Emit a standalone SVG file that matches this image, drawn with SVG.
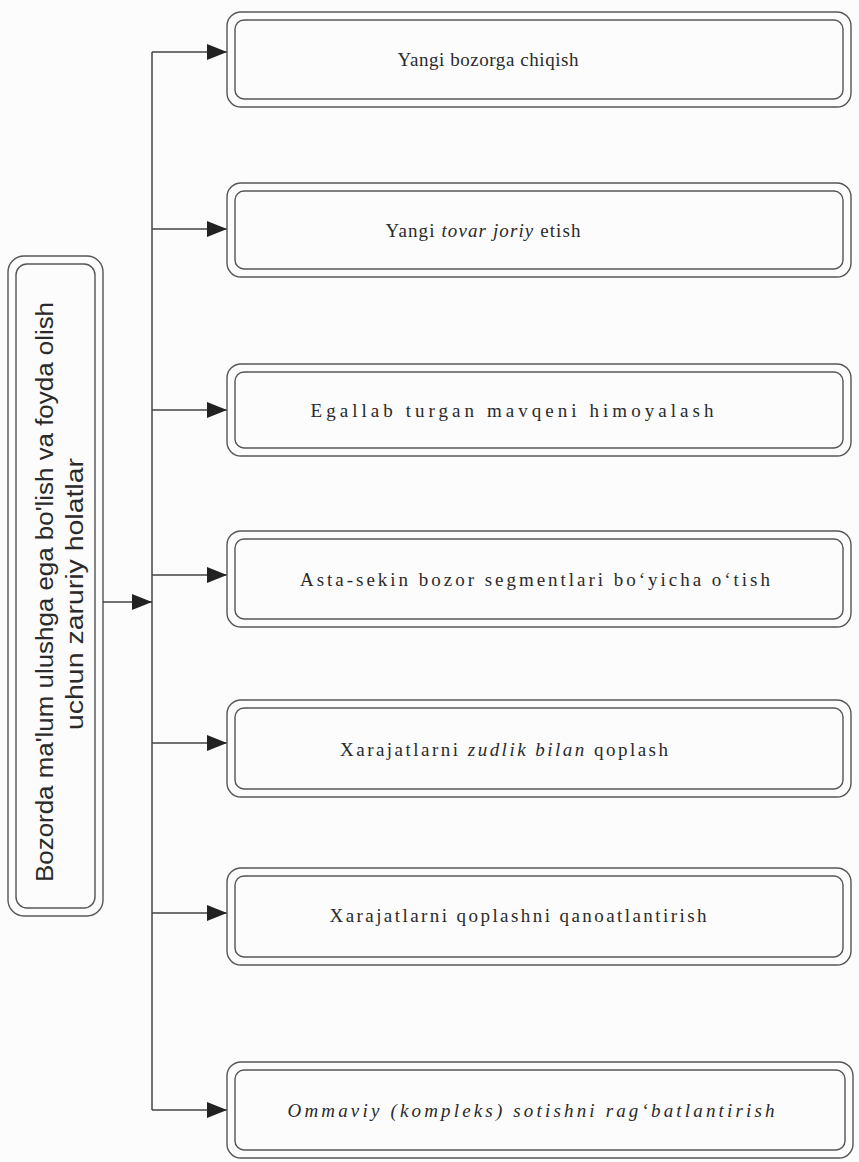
<svg xmlns="http://www.w3.org/2000/svg" width="859" height="1162" viewBox="0 0 859 1162">
  <style>
    .bg { fill: #fcfcfc; }
    .frame { fill: none; stroke: #555; stroke-width: 1.4; }
    .wire { fill: none; stroke: #444; stroke-width: 1.5; }
    .lbl { font-family: "Liberation Serif", "Times New Roman", serif; font-size: 19px; fill: #2a2a2a; text-anchor: middle; }
    .side { font-family: "Liberation Sans Narrow", "Liberation Sans", Arial, sans-serif; font-size: 23px; fill: #2a2a2a; text-anchor: middle; }
    .it { font-style: italic; }
  </style>
  <defs>
    <marker id="head" viewBox="0 0 20 16" refX="20" refY="8" markerWidth="20" markerHeight="16" markerUnits="userSpaceOnUse" orient="auto">
      <path d="M0,0 L20,8 L0,16 Z" fill="#222"/>
    </marker>
  </defs>

  <rect class="bg" x="0" y="0" width="859" height="1162"/>

  <!-- source node (vertical caption) -->
  <g id="source">
    <rect class="frame" x="8" y="256" width="95" height="660" rx="16"/>
    <rect class="frame" x="16" y="264" width="79" height="644" rx="11"/>
    <text class="side" transform="translate(53,592) rotate(-90)" textLength="580" lengthAdjust="spacingAndGlyphs">Bozorda ma'lum ulushga ega bo'lish va foyda olish</text>
    <text class="side" transform="translate(83,594) rotate(-90)" textLength="272" lengthAdjust="spacingAndGlyphs">uchun  zaruriy  holatlar</text>
  </g>

  <!-- connectors -->
  <g id="connectors">
    <line class="wire" x1="152" y1="52" x2="152" y2="1110"/>
    <line class="wire" x1="103" y1="602" x2="152" y2="602" marker-end="url(#head)"/>
    <line class="wire" x1="152" y1="52" x2="227" y2="52" marker-end="url(#head)"/>
    <line class="wire" x1="152" y1="229" x2="227" y2="229" marker-end="url(#head)"/>
    <line class="wire" x1="152" y1="410" x2="227" y2="410" marker-end="url(#head)"/>
    <line class="wire" x1="152" y1="575" x2="227" y2="575" marker-end="url(#head)"/>
    <line class="wire" x1="152" y1="743" x2="227" y2="743" marker-end="url(#head)"/>
    <line class="wire" x1="152" y1="913" x2="227" y2="913" marker-end="url(#head)"/>
    <line class="wire" x1="152" y1="1110" x2="227" y2="1110" marker-end="url(#head)"/>
  </g>

  <g id="n1">
    <rect class="frame" x="227" y="12" width="624" height="95" rx="14"/>
    <rect class="frame" x="235" y="20" width="608" height="79" rx="9"/>
    <text class="lbl" x="488" y="66" textLength="181" lengthAdjust="spacing">Yangi bozorga chiqish</text>
  </g>
  <g id="n2">
    <rect class="frame" x="227" y="183" width="624" height="94" rx="14"/>
    <rect class="frame" x="235" y="191" width="608" height="78" rx="9"/>
    <text class="lbl" x="483" y="237" textLength="195" lengthAdjust="spacing">Yangi <tspan class="it">tovar joriy</tspan> etish</text>
  </g>
  <g id="n3">
    <rect class="frame" x="227" y="364" width="624" height="92" rx="14"/>
    <rect class="frame" x="235" y="372" width="608" height="76" rx="9"/>
    <text class="lbl" x="512" y="417" textLength="403" lengthAdjust="spacing">Egallab turgan mavqeni himoyalash</text>
  </g>
  <g id="n4">
    <rect class="frame" x="227" y="531" width="624" height="96" rx="14"/>
    <rect class="frame" x="235" y="539" width="608" height="80" rx="9"/>
    <text class="lbl" x="535" y="586" textLength="470" lengthAdjust="spacing">Asta-sekin bozor segmentlari bo‘yicha o‘tish</text>
  </g>
  <g id="n5">
    <rect class="frame" x="227" y="700" width="624" height="97" rx="14"/>
    <rect class="frame" x="235" y="708" width="608" height="81" rx="9"/>
    <text class="lbl" x="504" y="756" textLength="328" lengthAdjust="spacing">Xarajatlarni <tspan class="it">zudlik bilan</tspan> qoplash</text>
  </g>
  <g id="n6">
    <rect class="frame" x="227" y="868" width="624" height="97" rx="14"/>
    <rect class="frame" x="235" y="876" width="608" height="81" rx="9"/>
    <text class="lbl" x="518" y="922" textLength="377" lengthAdjust="spacing">Xarajatlarni qoplashni qanoatlantirish</text>
  </g>
  <g id="n7">
    <rect class="frame" x="227" y="1062" width="626" height="96" rx="14"/>
    <rect class="frame" x="235" y="1070" width="610" height="80" rx="9"/>
    <text class="lbl it" x="531" y="1117" textLength="487" lengthAdjust="spacing">Ommaviy (kompleks) sotishni rag‘batlantirish</text>
  </g>
</svg>
